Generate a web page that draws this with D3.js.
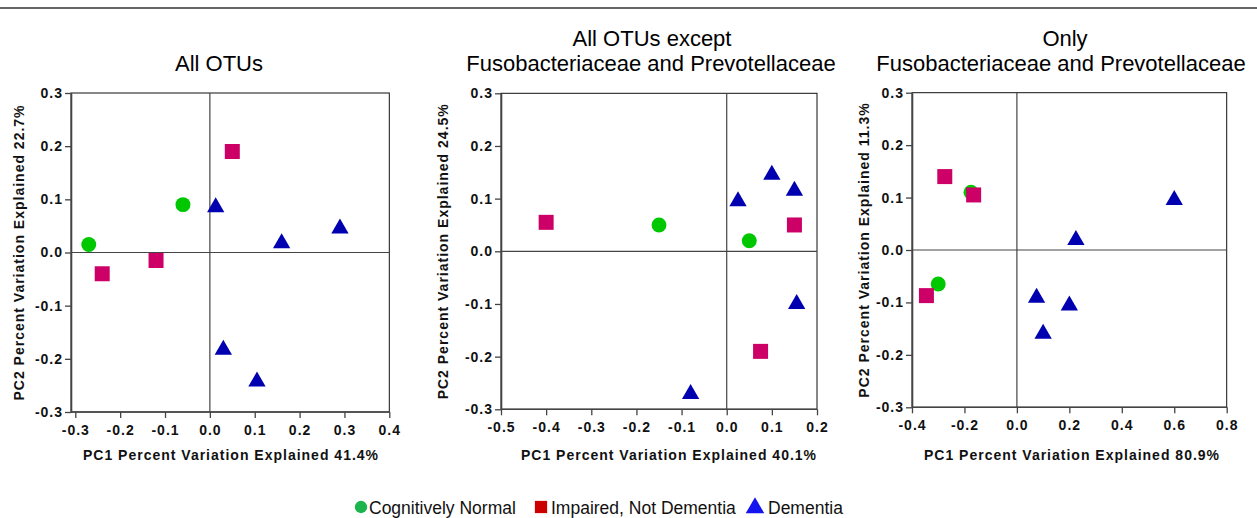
<!DOCTYPE html>
<html><head><meta charset="utf-8">
<script src="https://cdn.jsdelivr.net/npm/d3@7/dist/d3.min.js"></script>
<style>
html,body{margin:0;padding:0;background:#fff;}
svg{display:block;font-family:"Liberation Sans",Arial,sans-serif;}
</style></head>
<body>
<svg id="c" width="1257" height="518"></svg>
<script>
// ---- data ----
const groups = ["Cognitively Normal", "Impaired, Not Dementia", "Dementia"];
const panelTitles = [["All OTUs"], ["All OTUs except", "Fusobacteriaceae and Prevotellaceae"], ["Only", "Fusobacteriaceae and Prevotellaceae"]];
const xTitles = ["PC1 Percent Variation Explained 41.4%", "PC1 Percent Variation Explained 40.1%", "PC1 Percent Variation Explained 80.9%"];
const yTitles = ["PC2 Percent Variation Explained 22.7%", "PC2 Percent Variation Explained 24.5%", "PC2 Percent Variation Explained 11.3%"];
const xTicks1 = [-0.3, -0.2, -0.1, 0.0, 0.1, 0.2, 0.3, 0.4];
const xTicks2 = [-0.5, -0.4, -0.3, -0.2, -0.1, 0.0, 0.1, 0.2];
const xTicks3 = [-0.4, -0.2, 0.0, 0.2, 0.4, 0.6, 0.8];
const yTicks = [-0.3, -0.2, -0.1, 0.0, 0.1, 0.2, 0.3];

// panel 1: All OTUs
const p1Normal   = [[-0.27, 0.015], [-0.06, 0.09]];
const p1Impaired = [[-0.24, -0.04], [-0.12, -0.015], [0.05, 0.19]];
const p1Dementia = [[0.013, 0.088], [0.16, 0.02], [0.29, 0.048], [0.03, -0.18], [0.105, -0.24]];
// panel 2: All OTUs except Fusobacteriaceae and Prevotellaceae
const p2Normal   = [[-0.15, 0.05], [0.05, 0.02]];
const p2Impaired = [[-0.40, 0.055], [0.15, 0.05], [0.075, -0.19]];
const p2Dementia = [[0.025, 0.098], [0.10, 0.148], [0.15, 0.118], [0.155, -0.097], [-0.08, -0.268]];
// panel 3: Only Fusobacteriaceae and Prevotellaceae
const p3Normal   = [[-0.175, 0.11], [-0.30, -0.065]];
const p3Impaired = [[-0.275, 0.14], [-0.165, 0.105], [-0.345, -0.087]];
const p3Dementia = [[0.60, 0.098], [0.225, 0.022], [0.075, -0.088], [0.20, -0.103], [0.10, -0.157]];

// ---- layout / style ----
const markColors = ["#00c800", "#cc0066", "#0000b0"];
const legendColors = ["#1cb44c", "#cc0000", "#1414ee"];

const panels = [
  {xDom:[-0.3,0.4], xR:[75.3,389.3], box:[71,389.3], yR:[412,93], xTicks:xTicks1,
   titleX:[219,219], titleY:[71], yLabX:18, xTitX:231, data:[p1Normal,p1Impaired,p1Dementia]},
  {xDom:[-0.5,0.2], xR:[501,817], box:[501,817], yR:[409.3,93.3], xTicks:xTicks2,
   titleX:[652,651], titleY:[46,71], yLabX:442, xTitX:669, data:[p2Normal,p2Impaired,p2Dementia]},
  {xDom:[-0.4,0.8], xR:[912,1226.7], box:[912,1226.7], yR:[407.3,92.7], xTicks:xTicks3,
   titleX:[1065,1061], titleY:[46,71], yLabX:863, xTitX:1072, data:[p3Normal,p3Impaired,p3Dementia]}
];

const svg = d3.select("#c");
svg.append("line").attr("x1",0).attr("x2",1257).attr("y1",8).attr("y2",8)
  .attr("stroke","#333").attr("stroke-width",1.5);

const f1 = d3.format(".1f");
const fmt = v => f1(v).replace("\u2212", "-");

panels.forEach((p, i) => {
  const x = d3.scaleLinear().domain(p.xDom).range(p.xR);
  const y = d3.scaleLinear().domain([-0.3,0.3]).range(p.yR);
  const g = svg.append("g");
  const [bx0, bx1] = p.box;
  const [by1, by0] = p.yR;

  // box
  g.append("rect").attr("x",bx0).attr("y",by0).attr("width",bx1-bx0).attr("height",by1-by0)
    .attr("fill","none").attr("stroke","#111").attr("stroke-width",1);

  // zero lines
  g.append("line").attr("x1",x(0)).attr("x2",x(0)).attr("y1",by0).attr("y2",by1)
    .attr("stroke","#444").attr("stroke-width",1.2);
  g.append("line").attr("x1",bx0).attr("x2",bx1).attr("y1",y(0)).attr("y2",y(0))
    .attr("stroke","#444").attr("stroke-width",1.2);

  // axes
  const xa = g.append("g").attr("transform",`translate(0,${by1})`)
    .call(d3.axisBottom(x).tickValues(p.xTicks).tickFormat(fmt).tickSize(6).tickSizeOuter(0).tickPadding(7));
  const ya = g.append("g").attr("transform",`translate(${bx0},0)`)
    .call(d3.axisLeft(y).tickValues(yTicks).tickFormat(fmt).tickSize(6).tickSizeOuter(0).tickPadding(2));
  [xa, ya].forEach(a => {
    a.select(".domain").attr("stroke","#444").attr("stroke-width",1.6);
    a.selectAll(".tick line").attr("stroke","#444").attr("stroke-width",1.3);
    a.selectAll(".tick text").attr("font-size",14).attr("font-weight","bold")
      .attr("letter-spacing",1).attr("fill","#111")
      .attr("font-family","Liberation Sans, Arial, sans-serif");
  });
  xa.select(".domain").attr("d", `M${bx0},0H${bx1}`);

  // titles
  panelTitles[i].forEach((t, k) => {
    g.append("text").attr("x",p.titleX[k]).attr("y",p.titleY[k]).attr("text-anchor","middle")
      .attr("font-size",22).attr("fill","#000").text(t);
  });
  g.append("text").attr("x",p.xTitX).attr("y",460).attr("text-anchor","middle")
    .attr("font-size",14).attr("font-weight","bold").attr("letter-spacing",1)
    .attr("fill","#111").text(xTitles[i]);
  g.append("text").attr("transform",`translate(${p.yLabX + 6},${(by0+by1)/2}) rotate(-90)`)
    .attr("text-anchor","middle").attr("font-size",14).attr("font-weight","bold")
    .attr("letter-spacing",1).attr("fill","#111").text(yTitles[i]);

  // marks
  const sym = [d3.symbolCircle, d3.symbolSquare, d3.symbolTriangle];
  const sizes = [175, 225, 130];
  p.data.forEach((pts, s) => {
    g.selectAll(null).data(pts).enter().append("path")
      .attr("d", d3.symbol().type(sym[s]).size(sizes[s]))
      .attr("transform", d => `translate(${x(d[0])},${y(d[1]) + (s===2 ? 1.5 : 0)})`)
      .attr("fill", markColors[s]);
  });
});

// legend
const lg = svg.append("g");
const legendItems = [
  {sx:361, tx:369, sym:d3.symbolCircle, size:120},
  {sx:541, tx:551, sym:d3.symbolSquare, size:150},
  {sx:755, tx:768, sym:d3.symbolTriangle, size:150}
];
legendItems.forEach((it, k) => {
  lg.append("path").attr("d", d3.symbol().type(it.sym).size(it.size))
    .attr("transform",`translate(${it.sx},${507 + (k===2?1:0)})`).attr("fill",legendColors[k]);
  lg.append("text").attr("x",it.tx).attr("y",514).attr("font-size",17.5).attr("fill","#111").text(groups[k]);
});
</script>
</body></html>
